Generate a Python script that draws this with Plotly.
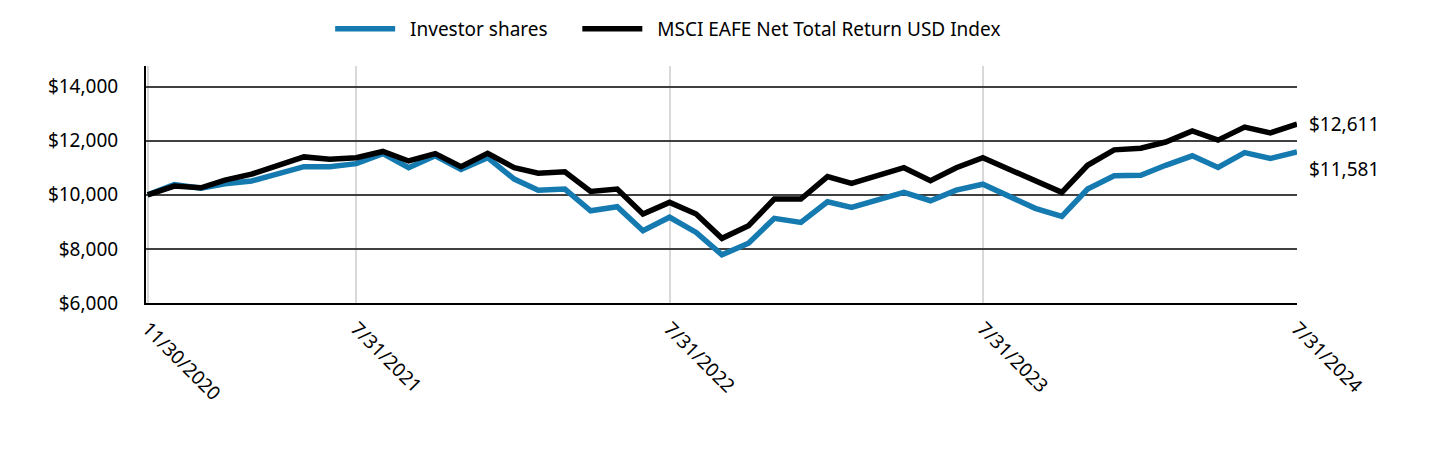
import pandas as pd
import plotly.graph_objects as go

dates = pd.date_range("2020-11-30", "2024-07-31", freq="ME")

investor = [10000, 10380, 10240, 10410, 10510, 10760, 11040, 11040, 11150,
            11520, 11000, 11440, 10940, 11370, 10580, 10170, 10210, 9410, 9560,
            8670, 9170, 8610, 7780, 8210, 9130, 8980, 9740, 9530, 9840, 10090,
            9780, 10170, 10390, 9960, 9500, 9200, 10210, 10700, 10720, 11090,
            11440, 11010, 11560, 11340, 11581]

msci = [10000, 10320, 10260, 10540, 10760, 11070, 11400, 11310, 11370,
        11600, 11250, 11520, 11040, 11530, 11000, 10800, 10850, 10120, 10210,
        9290, 9720, 9290, 8390, 8860, 9840, 9840, 10670, 10420, 10700, 11000,
        10520, 11000, 11370, 10940, 10570, 10090, 11090, 11660, 11720, 11950,
        12360, 12020, 12500, 12290, 12611]

series_names = ["Investor shares", "MSCI EAFE Net Total Return USD Index"]
colors = ["#157ab0", "#000000"]
tick_dates = ["2020-11-30", "2021-07-31", "2022-07-31", "2023-07-31", "2024-07-31"]
tick_text = ["11/30/2020", "7/31/2021", "7/31/2022", "7/31/2023", "7/31/2024"]
y_ticks = [6000, 8000, 10000, 12000, 14000]
y_text = ["$6,000", "$8,000", "$10,000", "$12,000", "$14,000"]
end_labels = ["$11,581", "$12,611"]

FONT = "Noto Sans"
NB = "\u00a0"

fig = go.Figure()
legend_names = [NB * 2 + series_names[0] + NB * 5, NB * 2 + series_names[1]]
for name, vals, col in zip(legend_names, [investor, msci], colors):
    fig.add_trace(go.Scatter(x=dates, y=vals, name=name, mode="lines",
                             line=dict(color=col, width=5.5)))

for vals, lab, shift in zip([investor, msci], end_labels, [-17, 0]):
    fig.add_annotation(x=1, xref="paper", y=vals[-1], yref="y", text=lab,
                       showarrow=False, xanchor="left", xshift=10, yshift=shift,
                       font=dict(family=FONT, size=19, color="#000"))

fig.update_layout(
    width=1440, height=456,
    margin=dict(l=138, r=151, t=58, b=161),
    paper_bgcolor="white", plot_bgcolor="white",
    font=dict(family=FONT, size=19, color="#000"),
    showlegend=True,
    legend=dict(orientation="h", x=0.16, xanchor="left", y=0.954, yanchor="middle",
                yref="container", itemwidth=60,
                font=dict(family=FONT, size=19), traceorder="normal"),
    xaxis=dict(range=["2020-11-28", "2024-07-31"], tickvals=tick_dates,
               ticktext=tick_text, tickangle=45, showgrid=True,
               gridcolor="#d9d9d9", gridwidth=2, showline=True,
               linecolor="#000", linewidth=2, ticks="", zeroline=False,
               ticklabelstandoff=5),
    yaxis=dict(range=[6000, 14760], tickvals=y_ticks, ticktext=y_text,
               showgrid=True, gridcolor="#404040", gridwidth=2, showline=True,
               linecolor="#000", linewidth=2, ticks="", zeroline=False,
               ticklabelstandoff=22),
)

fig.write_html("out.html")
